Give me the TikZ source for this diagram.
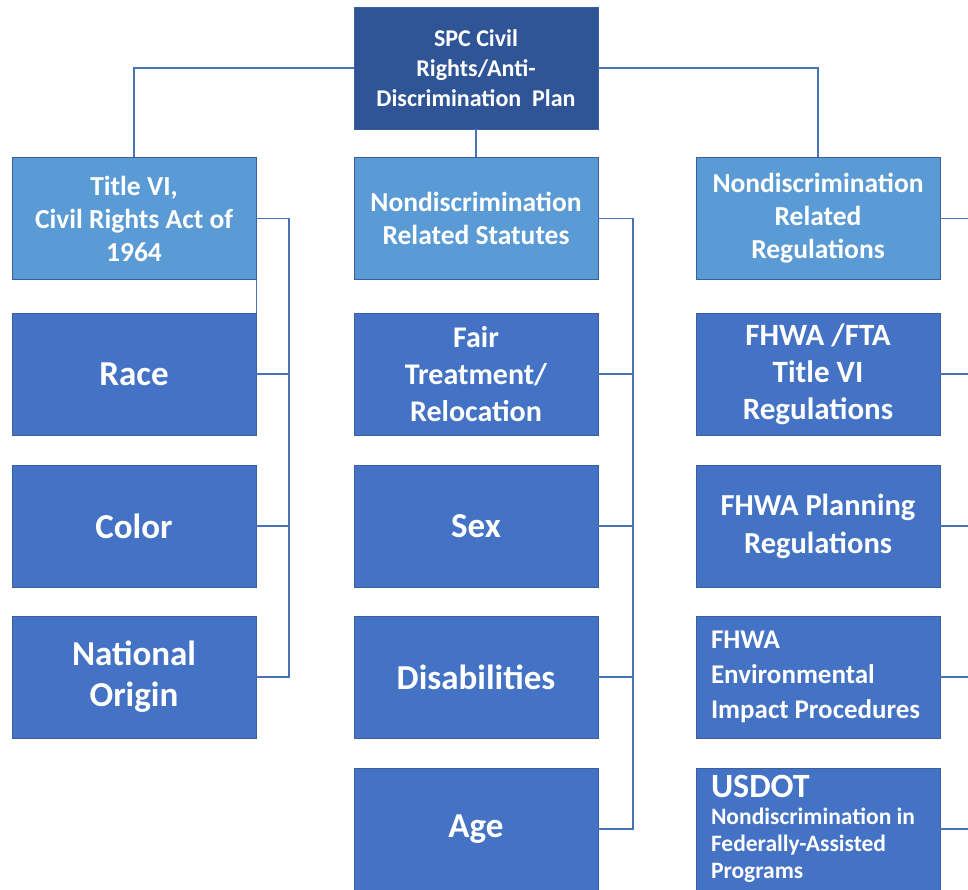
\documentclass[tikz,border=0pt]{standalone}
\usepackage{fontspec}
\setmainfont{Carlito}
\definecolor{topblue}{HTML}{2F5597}
\definecolor{midblue}{HTML}{5B9BD5}
\definecolor{boxblue}{HTML}{4472C4}
\definecolor{edgeblue}{HTML}{3A5F9E}
\definecolor{wireblue}{HTML}{4A72B8}
\newcommand{\narrowgap}{\spaceskip=0.22em\relax}
\begin{document}
\begin{tikzpicture}[x=1pt,y=-1pt,
    box/.style={draw=edgeblue, line width=0.8pt, minimum width=244pt, minimum height=122pt,
        inner sep=0pt, text=white, align=center, font=\bfseries},
    headbox/.style={box, fill=topblue, font=\fontsize{24}{30}\selectfont\bfseries},
    groupbox/.style={box, fill=midblue, font=\fontsize{27.5}{33}\selectfont\bfseries},
    itembox/.style={box, fill=boxblue, font=\fontsize{30}{37}\selectfont\bfseries},
    bigitem/.style={itembox, font=\fontsize{35}{41}\selectfont\bfseries},
    leftitem/.style={itembox, text width=214pt, align=left},
    wire/.style={draw=wireblue, line width=1.3pt}]
    \useasboundingbox (0,0) rectangle (968,890);

    \node[headbox] (plan) at (476,68) {SPC Civil\\Rights/Anti-\\Discrimination~ Plan};

    \node[groupbox] (titlevi) at (134,218.5) {Title VI,\\Civil Rights Act of\\1964};
    \node[groupbox] (statutes) at (476,218.5) {Nondiscrimination\\Related Statutes};
    \node[groupbox] (regs) at (818,218.5) {Nondiscrimination\\Related\\Regulations};

    \node[bigitem] (race) at (134,374) {Race};
    \node[bigitem] (color) at (134,526) {Color};
    \node[bigitem] (origin) at (134,677) {National\\Origin};

    \node[itembox] (fair) at (476,374) {Fair\\Treatment/\\Relocation};
    \node[bigitem] (sex) at (476,526) {Sex};
    \node[bigitem] (disab) at (476,677) {Disabilities};
    \node[bigitem] (age) at (476,829) {Age};

    \node[itembox, font=\fontsize{31}{37}\selectfont\bfseries] (fhwafta) at (818,374) {FHWA /FTA\\Title VI\\Regulations};
    \node[itembox, font=\fontsize{30.5}{38}\selectfont\bfseries] (planning) at (818,526) {FHWA Planning\\Regulations};
    \node[leftitem, font=\fontsize{27}{35}\selectfont\bfseries] (envimp) at (818,677)
        {\narrowgap FHWA\\Environmental\\Impact Procedures};
    \node[leftitem, font=\fontsize{23.5}{27}\selectfont\bfseries] (usdot) at (818,829)
        {{\fontsize{34}{35}\selectfont USDOT\par}\narrowgap Nondiscrimination in\\Federally-Assisted\\Programs};

    \coordinate (busL) at (289,218.5);
    \coordinate (busM) at (633,218.5);
    \coordinate (busR) at (975,218.5);

    \draw[wire] (plan.west) -| (titlevi.north);
    \draw[wire] (plan.east) -| (regs.north);
    \draw[wire] (plan.south) -- (statutes.north);

    \draw[wire] (titlevi.east) -- (busL) |- (origin.east);
    \draw[wire] (titlevi.south east) -- (race.north east);
    \draw[wire] (race.east) -- (race.east -| busL);
    \draw[wire] (color.east) -- (color.east -| busL);

    \draw[wire] (statutes.east) -- (busM) |- (age.east);
    \draw[wire] (fair.east) -- (fair.east -| busM);
    \draw[wire] (sex.east) -- (sex.east -| busM);
    \draw[wire] (disab.east) -- (disab.east -| busM);

    \draw[wire] (regs.east) -- (busR);
    \draw[wire] (fhwafta.east) -- (fhwafta.east -| busR);
    \draw[wire] (planning.east) -- (planning.east -| busR);
    \draw[wire] (envimp.east) -- (envimp.east -| busR);
    \draw[wire] (usdot.east) -- (usdot.east -| busR);

\end{tikzpicture}
\end{document}
